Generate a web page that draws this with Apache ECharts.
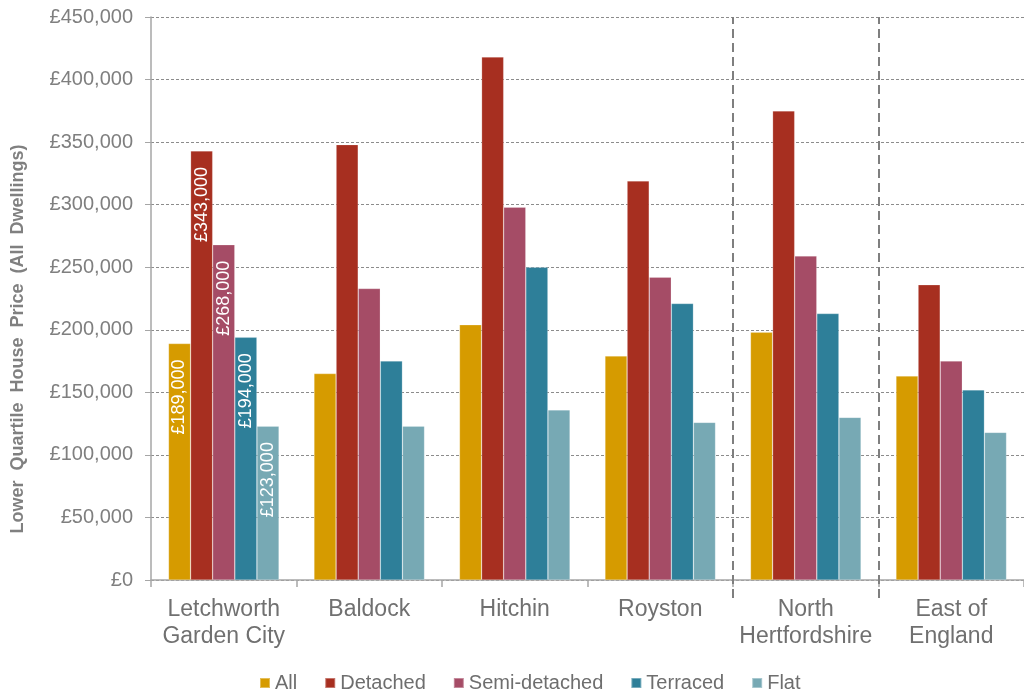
<!DOCTYPE html>
<html>
<head>
<meta charset="utf-8">
<script src="https://cdn.jsdelivr.net/npm/echarts@6/dist/echarts.min.js"></script>
<style>
  html, body { margin: 0; padding: 0; background: #fff; }
  #chart { width: 1024px; height: 693px; }
</style>
</head>
<body>
<div id="chart"></div>
<script>
// Lower quartile house prices by area and dwelling type
const categories = ['Letchworth\nGarden City', 'Baldock', 'Hitchin', 'Royston', 'North\nHertfordshire', 'East of\nEngland'];
const seriesNames = ['All', 'Detached', 'Semi-detached', 'Terraced', 'Flat'];
const allDwellings = [189000, 165000, 204000, 179000, 198000, 163000];
const detached = [343000, 348000, 418000, 319000, 375000, 236000];
const semiDetached = [268000, 233000, 298000, 242000, 259000, 175000];
const terraced = [194000, 175000, 250000, 221000, 213000, 152000];
const flat = [123000, 123000, 136000, 126000, 130000, 118000];
// category boundaries that get a dashed separator (Royston | North Herts | East of England)
const separators = [4, 5];
// only the first area carries value labels
const labelledIndex = 0;

const colors = ['#D69B00', '#A72F20', '#A54C66', '#2E7F99', '#77A9B4'];
const values = [allDwellings, detached, semiDetached, terraced, flat];

function money(v) {
  return '£' + String(v).replace(/\B(?=(\d{3})+(?!\d))/g, ',');
}

const chart = echarts.init(document.getElementById('chart'), null, { renderer: 'canvas' });

const barSeries = values.map((arr, si) => ({
  name: seriesNames[si],
  type: 'bar',
  xAxisIndex: 0,
  yAxisIndex: 0,
  barGap: '0%',
  barCategoryGap: '24%',
  itemStyle: { color: colors[si], borderColor: 'rgba(255,255,255,0.35)', borderWidth: 0.6 },
  data: arr.map((v, i) => ({
    value: v,
    label: {
      show: i === labelledIndex,
      position: 'insideTop',
      rotate: 90,
      align: 'right',
      verticalAlign: 'middle',
      distance: 16,
      color: '#ffffff',
      fontFamily: 'Liberation Sans, Arial, sans-serif',
      fontSize: 18,
      formatter: (p) => money(p.value)
    }
  }))
}));

const option = {
  animation: false,
  color: colors,
  textStyle: { fontFamily: 'Liberation Sans, Arial, sans-serif' },
  grid: [
    { left: 151, top: 17, width: 877, height: 563, containLabel: false },
    // same horizontal span, reaching a little below the axis for the separators
    { left: 151, top: 17, width: 877, height: 581, containLabel: false }
  ],
  legend: {
    data: seriesNames,
    top: 668,
    left: 254,
    icon: 'rect',
    itemWidth: 10,
    itemHeight: 10,
    itemGap: 27,
    textStyle: { color: '#6e6e6e', fontSize: 20, fontFamily: 'Liberation Sans, Arial, sans-serif' }
  },
  xAxis: [
    {
      type: 'category',
      gridIndex: 0,
      data: categories,
      axisLine: { lineStyle: { color: '#a6a6a6', width: 1.5 } },
      axisTick: { show: true, length: 7, lineStyle: { color: '#a6a6a6', width: 1.5 } },
      axisLabel: {
        color: '#707070',
        fontSize: 23,
        lineHeight: 27,
        margin: 16,
        interval: 0
      }
    },
    {
      type: 'value',
      gridIndex: 1,
      min: 0,
      max: categories.length,
      show: false
    }
  ],
  yAxis: [
    {
      type: 'value',
      gridIndex: 0,
      min: 0,
      max: 450000,
      interval: 50000,
      axisLine: { show: true, lineStyle: { color: '#a6a6a6', width: 1.5 } },
      axisTick: { show: true, length: 6, lineStyle: { color: '#a6a6a6' } },
      axisLabel: {
        color: '#7f7f7f',
        fontSize: 20,
        margin: 18,
        formatter: (v) => money(v)
      },
      splitLine: { show: true, lineStyle: { color: '#8c8c8c', type: [3, 2], width: 1 } }
    },
    {
      type: 'value',
      gridIndex: 1,
      min: 0,
      max: 1,
      show: false
    }
  ],
  graphic: [{
    type: 'text',
    x: 18,
    y: 339,
    rotation: Math.PI / 2,
    style: {
      text: 'Lower  Quartile  House  Price  (All  Dwellings)',
      fill: '#808080',
      font: 'bold 18px "Liberation Sans", Arial, sans-serif',
      align: 'center',
      verticalAlign: 'middle'
    }
  }],
  series: barSeries.concat([{
    name: 'separators',
    type: 'line',
    xAxisIndex: 1,
    yAxisIndex: 1,
    data: [],
    silent: true,
    markLine: {
      silent: true,
      symbol: 'none',
      label: { show: false },
      lineStyle: { color: '#7f7f7f', type: [9, 5], width: 2 },
      data: separators.map((x) => ({ xAxis: x }))
    }
  }])
};

chart.setOption(option);
</script>
</body>
</html>
